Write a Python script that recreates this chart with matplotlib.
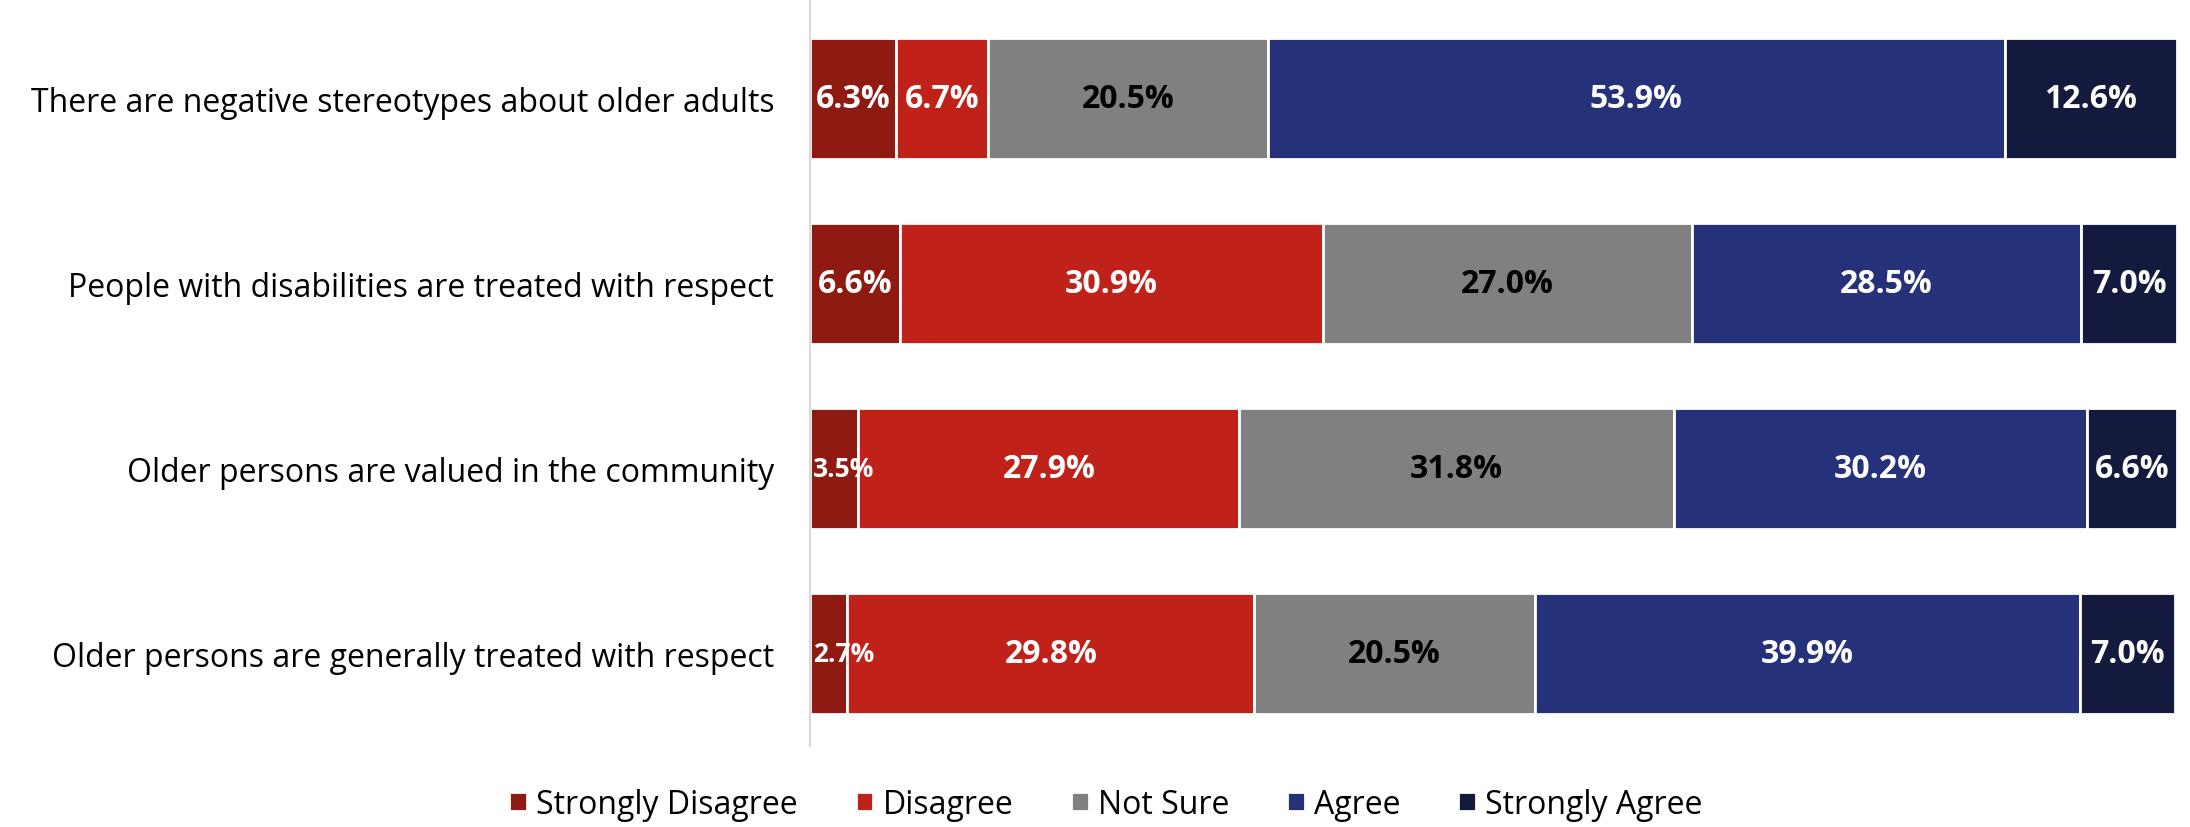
import numpy as np
import matplotlib.pyplot as plt

plt.rcParams['font.family'] = ['Open Sans', 'DejaVu Sans']

statements = [
    "There are negative stereotypes about older adults",
    "People with disabilities are treated with respect",
    "Older persons are valued in the community",
    "Older persons are generally treated with respect",
]
responses = ["Strongly Disagree", "Disagree", "Not Sure", "Agree", "Strongly Agree"]

strongly_disagree = [6.3, 6.6, 3.5, 2.7]
disagree = [6.7, 30.9, 27.9, 29.8]
not_sure = [20.5, 27.0, 31.8, 20.5]
agree = [53.9, 28.5, 30.2, 39.9]
strongly_agree = [12.6, 7.0, 6.6, 7.0]

series = [strongly_disagree, disagree, not_sure, agree, strongly_agree]
colors = ['#8E1A12', '#C0221A', '#808080', '#253178', '#141A3E']
text_colors = ['white', 'white', 'black', 'white', 'white']

fig = plt.figure(figsize=(21.9, 8.28), dpi=100)
ax = fig.add_axes([0.370, 0.098, 0.624, 0.902])

y = np.arange(len(statements))
left = np.zeros(len(statements))
for vals, col, tc, name in zip(series, colors, text_colors, responses):
    vals = np.array(vals)
    ax.barh(y, vals, left=left, height=0.655, color=col, edgecolor='white',
            linewidth=2, label=name)
    for yi, l, v in zip(y, left, vals):
        if v < 5:
            # too narrow: label starts at the bar's left edge and spills over
            ax.text(l + 0.2, yi, f"{v:.1f}%", ha='left', va='center',
                    color=tc, fontsize=19, fontweight='bold')
        else:
            ax.text(l + v / 2, yi, f"{v:.1f}%", ha='center', va='center',
                    color=tc, fontsize=23, fontweight='bold')
    left += vals

ax.set_xlim(0, 100)
ax.set_ylim(3.5, -0.54)
ax.set_yticks(y)
ax.set_yticklabels(statements, fontsize=23)
ax.tick_params(axis='y', length=0, pad=26)
ax.set_xticks([])
for s in ['top', 'right', 'bottom']:
    ax.spines[s].set_visible(False)
ax.spines['left'].set_color('#D9D9D9')
ax.spines['left'].set_linewidth(1.5)

fig.legend(loc='center', bbox_to_anchor=(0.505, 0.027), ncol=5, frameon=False,
           fontsize=23, handlelength=0.55, handleheight=0.55, handletextpad=0.3,
           columnspacing=1.8)

fig.savefig('out.png', dpi=100)
